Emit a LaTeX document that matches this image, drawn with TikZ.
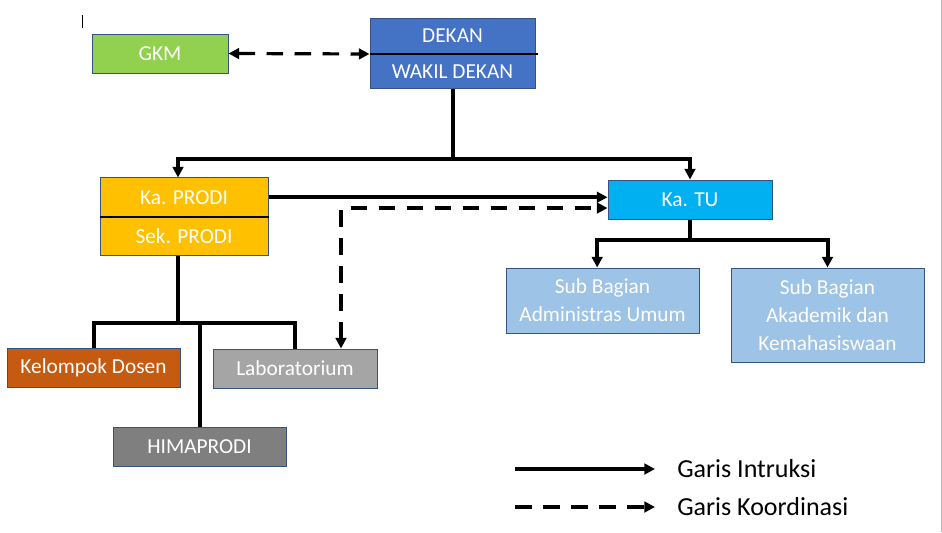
\documentclass[tikz,border=0pt]{standalone}
\usepackage{fontspec}
\setmainfont{Carlito}
\usetikzlibrary{arrows.meta}

\begin{document}
\begin{tikzpicture}[
    x=0.75pt, y=-0.75pt,
    box/.style={rectangle, draw=cborder, line width=0.75pt, text=white, inner sep=0pt, align=center, font=\fontsize{16}{21}\selectfont},
    legend_node/.style={anchor=west, inner sep=0pt, font=\fontsize{19.5}{23}\selectfont},
    instr/.style={line width=3pt, -{Triangle[length=8pt, width=8pt]}},
    koord/.style={line width=2.4pt, dash pattern=on 12.5pt off 8.5pt, -{Triangle[length=8pt, width=8pt]}},
    plain/.style={line width=3pt}
]

  % --- Color Definitions ---
  \definecolor{cborder}{RGB}{52, 82, 130}
  \definecolor{cgkm}{RGB}{146, 208, 80}    % Green
  \definecolor{cdekan}{RGB}{68, 114, 196}  % Blue
  \definecolor{cprodi}{RGB}{255, 192, 0}   % Gold
  \definecolor{ctu}{RGB}{0, 176, 240}      % Cyan
  \definecolor{csub}{RGB}{157, 195, 230}   % Light Blue
  \definecolor{cdosen}{RGB}{197, 90, 17}   % Orange
  \definecolor{clab}{RGB}{165, 165, 165}   % Gray
  \definecolor{chima}{RGB}{127, 127, 127}  % Dark Gray

  \useasboundingbox (0,0) rectangle (942,532);

  % --- Boxes ---
  \node[box, fill=cgkm, minimum width=102pt, minimum height=29.25pt] (gkm) at (160,53.5) {GKM};
  \node[box, fill=cdekan, minimum width=123.75pt, minimum height=26.6pt] (dekan) at (452.5,35.75) {DEKAN};
  \node[box, fill=cdekan, minimum width=123.75pt, minimum height=26.6pt] (wadek) at (452.5,71.25) {WAKIL DEKAN};
  \node[box, fill=cprodi, minimum width=126pt, minimum height=28.9pt] (kaprodi) at (184,197.25) {Ka. PRODI};
  \node[box, fill=cprodi, minimum width=126pt, minimum height=28.9pt] (sekprodi) at (184,235.75) {Sek. PRODI};
  \node[box, fill=ctu, minimum width=123pt, minimum height=29.25pt] (katu) at (690,199.5) {Ka. TU};
  \node[box, fill=csub, minimum width=144.75pt, minimum height=48.75pt] (subadm) at (602.5,300.5) {Sub Bagian\\Administras Umum};
  \node[box, fill=csub, minimum width=144.75pt, minimum height=70.5pt] (subakad) at (827.5,315) {Sub Bagian\\Akademik dan\\Kemahasiswaan};
  \node[box, fill=cdosen, minimum width=129.75pt, minimum height=29.25pt] (kdosen) at (93.5,367.5) {Kelompok Dosen};
  \node[box, fill=clab, minimum width=123pt, minimum height=29.25pt] (lab) at (295,368.5) {Laboratorium};
  \node[box, fill=chima, minimum width=129.75pt, minimum height=29.25pt] (hima) at (199.5,446.5) {HIMAPRODI};

  % --- Split lines ---
  \draw[line width=1.5pt] (dekan.south west) -- ([xshift=1.5pt]dekan.south east);
  \draw[line width=1.5pt] (kaprodi.south west) -- (kaprodi.south east);

  % --- Coordination ---
  \draw[koord, {Triangle[length=8pt, width=8pt]}-{Triangle[length=8pt, width=8pt]}] (gkm.east) -- (dekan.south west);
  \draw[koord, {Triangle[length=8pt, width=8pt]}-{Triangle[length=8pt, width=8pt]}] ([xshift=34.5pt]lab.north) |- ([yshift=-6.4pt]katu.west);

  % --- Instruction: Dekan ---
  \coordinate (j1) at (452.5,159);
  \draw[plain] (wadek.south) -- (j1);
  \draw[instr] (j1) -| ([xshift=-4.5pt]kaprodi.north);
  \draw[instr] (j1) -| (katu.north);
  \draw[instr] (kaprodi.east) -- (kaprodi.east -| katu.west);

  % --- Instruction: Ka. TU ---
  \coordinate (j3) at (690,240);
  \draw[plain] (katu.south) -- (j3);
  \draw[instr] (j3) -| ([xshift=-4pt]subadm.north);
  \draw[instr] (j3) -| (subakad.north);

  % --- Ka. PRODI branches ---
  \coordinate (j2) at (178,323);
  \draw[plain] (j2 |- sekprodi.south) -- (j2);
  \draw[plain] (kdosen.north) |- (j2) -| (lab.north);
  \draw[plain] (hima.north) -- (hima.north |- j2);

  % --- Legend ---
  \node[legend_node] (lgi) at (677,469) {Garis Intruksi};
  \node[legend_node] (lgk) at (677,507) {Garis Koordinasi};
  \coordinate (li) at (515,469);
  \coordinate (lk) at (515,507);
  \draw[instr] (li) -- ([xshift=-16.5pt]lgi.west);
  \draw[koord] (lk) -- ([xshift=-16.5pt]lgk.west);

  % --- Edge marks ---
  \draw[line width=0.75pt] (82,15) -- (82,28);
  \draw[black!25, line width=0.75pt] (941,0) -- (941,532);

\end{tikzpicture}
\end{document}
